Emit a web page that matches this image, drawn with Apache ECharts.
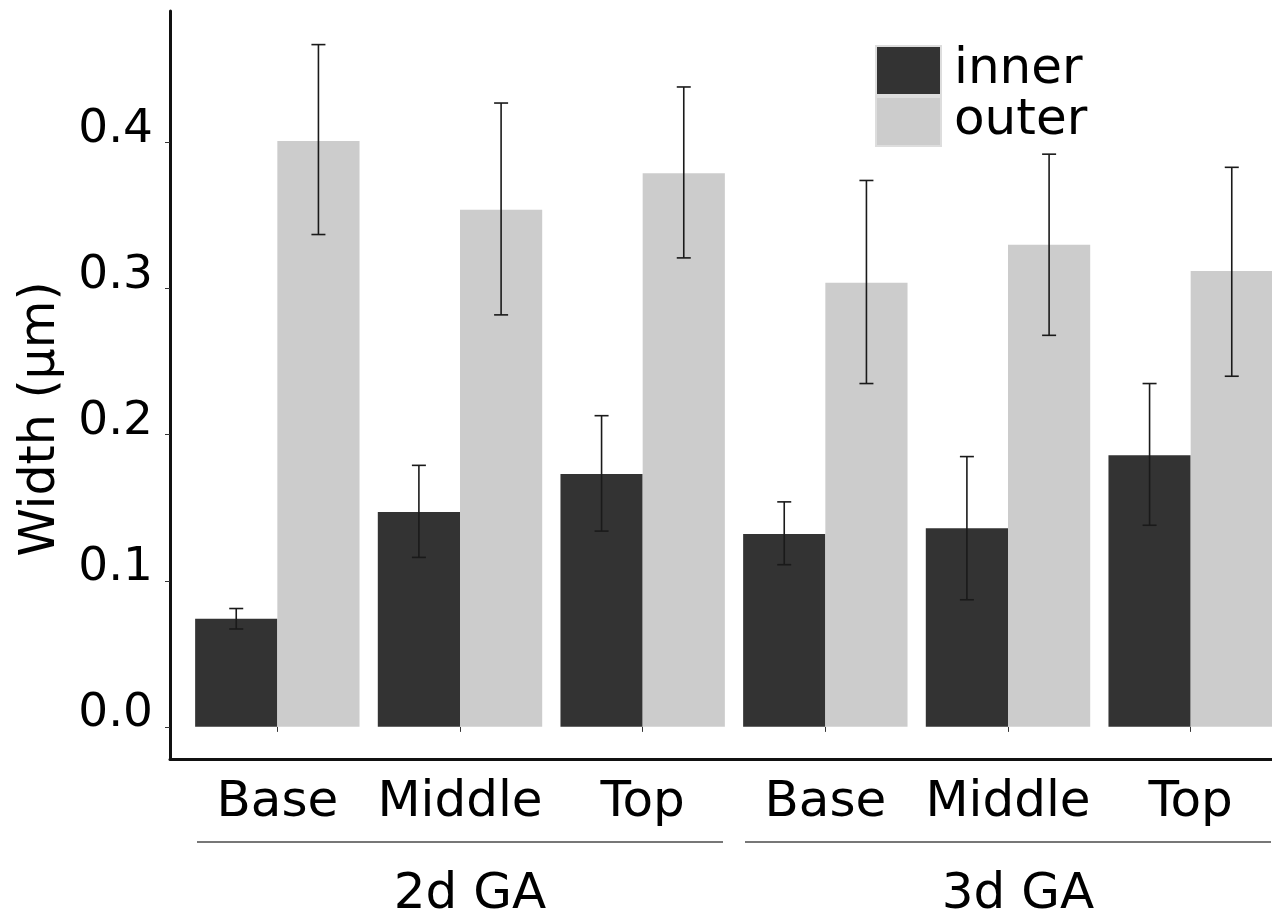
<!DOCTYPE html>
<html>
<head>
<meta charset="utf-8">
<script src="https://cdn.jsdelivr.net/npm/echarts@6/dist/echarts.min.js"></script>
<style>
html, body { margin: 0; background: #fff; }
#app { width: 1272px; height: 916px; }
</style>
</head>
<body>
<div id="app"></div>
<script>
// positions along the axis, and the two GA groups below them
const positions = ['Base', 'Middle', 'Top', 'Base', 'Middle', 'Top'];
const groups = ['2d GA', '3d GA'];
const yTicks = [0, 0.1, 0.2, 0.3, 0.4];

// mean width and error-bar ends (µm)
const innerMean = [0.074, 0.147, 0.173, 0.132, 0.136, 0.186];
const innerLow = [0.067, 0.116, 0.134, 0.111, 0.087, 0.138];
const innerHigh = [0.081, 0.179, 0.213, 0.154, 0.185, 0.235];
const outerMean = [0.401, 0.354, 0.379, 0.304, 0.330, 0.312];
const outerLow = [0.337, 0.282, 0.321, 0.235, 0.268, 0.240];
const outerHigh = [0.467, 0.427, 0.438, 0.374, 0.392, 0.383];

const font = 'DejaVu Sans';
const yMin = -0.022, yMax = 0.49;

function errData(low, high) {
	return low.map((v, i) => [i, v, high[i]]);
}

// side: -1 = left bar (inner), 1 = right bar (outer)
function errBar(side) {
	return function (params, api) {
		let i = api.value(0);
		let band = api.size([1, 0])[0];
		let bw = band * 0.9 / 2;
		let cx = api.coord([i, 0])[0] + side * bw / 2;
		let lo = api.coord([i, api.value(1)])[1];
		let hi = api.coord([i, api.value(2)])[1];
		let cap = 7;
		let st = { stroke: '#1a1a1a', lineWidth: 1.6 };
		return {
			type: 'group',
			children: [
				{ type: 'line', shape: { x1: cx, y1: lo, x2: cx, y2: hi }, style: st },
				{ type: 'line', shape: { x1: cx - cap, y1: hi, x2: cx + cap, y2: hi }, style: st },
				{ type: 'line', shape: { x1: cx - cap, y1: lo, x2: cx + cap, y2: lo }, style: st }
			]
		};
	};
}

let chart = echarts.init(document.getElementById('app'));
let option = {
	backgroundColor: '#fff',
	animation: false,
	textStyle: { fontFamily: font },
	legend: {
		data: ['inner', 'outer'],
		orient: 'vertical',
		left: 870,
		top: 40,
		itemWidth: 65,
		itemHeight: 49,
		itemGap: 0,
		icon: 'rect',
		itemStyle: { borderColor: '#dddddd', borderWidth: 2 },
		textStyle: { fontFamily: font, fontSize: 50, color: '#000', padding: [0, 0, 0, 8] }
	},
	grid: [
		// bars (runs a little past the right edge, as in the original)
		{ left: 186, width: 1096, top: 11, bottom: 157, outerBoundsMode: 'none', containLabel: false },
		// axis frame
		{ left: 170, right: 0, top: 11, bottom: 157, outerBoundsMode: 'none', containLabel: false }
	],
	xAxis: [
		{
			type: 'category',
			gridIndex: 0,
			data: positions,
			axisLine: { show: false },
			axisTick: { show: true, alignWithLabel: true, length: 5, lineStyle: { color: '#333' } },
			axisLabel: { fontFamily: font, fontSize: 50, color: '#000', margin: 19, interval: 0 }
		},
		{
			type: 'category',
			gridIndex: 0,
			position: 'bottom',
			offset: 103,
			data: groups,
			axisLine: { show: false },
			axisTick: { show: false },
			axisLabel: { fontFamily: font, fontSize: 50, color: '#000', margin: 8, interval: 0, padding: [0, 0, 0, 20] }
		},
		{
			type: 'value',
			gridIndex: 1,
			min: 0,
			max: 1,
			axisLine: { show: true, onZero: false, lineStyle: { color: '#111', width: 3 } },
			axisTick: { show: false },
			axisLabel: { show: false },
			splitLine: { show: false }
		}
	],
	yAxis: [
		{
			type: 'value',
			gridIndex: 0,
			min: yMin,
			max: yMax,
			show: false,
			splitLine: { show: false }
		},
		{
			type: 'value',
			gridIndex: 1,
			min: yMin,
			max: yMax,
			name: 'Width (µm)',
			nameLocation: 'middle',
			nameGap: 104,
			nameTextStyle: { fontFamily: font, fontSize: 49, color: '#000', padding: [0, 68, 0, 0] },
			axisLine: { show: true, onZero: false, lineStyle: { color: '#111', width: 3 } },
			axisTick: { show: true, length: 5, customValues: yTicks, lineStyle: { color: '#333' } },
			axisLabel: {
				fontFamily: font, fontSize: 47, color: '#000', margin: 17,
				customValues: yTicks,
				verticalAlign: 'bottom',
				lineHeight: 26,
				formatter: v => v.toFixed(1)
			},
			splitLine: { show: false }
		}
	],
	series: [
		{
			name: 'inner',
			type: 'bar',
			xAxisIndex: 0,
			yAxisIndex: 0,
			data: innerMean,
			barGap: 0,
			barCategoryGap: '10%',
			itemStyle: { color: '#333333' }
		},
		{
			name: 'outer',
			type: 'bar',
			xAxisIndex: 0,
			yAxisIndex: 0,
			data: outerMean,
			barGap: 0,
			barCategoryGap: '10%',
			itemStyle: { color: '#cccccc' }
		},
		{
			type: 'custom',
			xAxisIndex: 0,
			yAxisIndex: 0,
			z: 10,
			renderItem: errBar(-1),
			data: errData(innerLow, innerHigh)
		},
		{
			type: 'custom',
			xAxisIndex: 0,
			yAxisIndex: 0,
			z: 10,
			renderItem: errBar(1),
			data: errData(outerLow, outerHigh)
		}
	]
};
chart.setOption(option);

// group underlines, from the category bands of each group
let lines = [];
for (let g = 0; g < groups.length; g++) {
	let a = chart.convertToPixel({ xAxisIndex: 0 }, g * 3);
	let b = chart.convertToPixel({ xAxisIndex: 0 }, g * 3 + 2);
	let half = (b - a) / 4;
	lines.push({
		type: 'line',
		shape: { x1: a - half + 11, y1: 842, x2: b + half - 11, y2: 842 },
		style: { stroke: '#777', lineWidth: 2 }
	});
}
chart.setOption({ graphic: lines });
</script>
</body>
</html>
